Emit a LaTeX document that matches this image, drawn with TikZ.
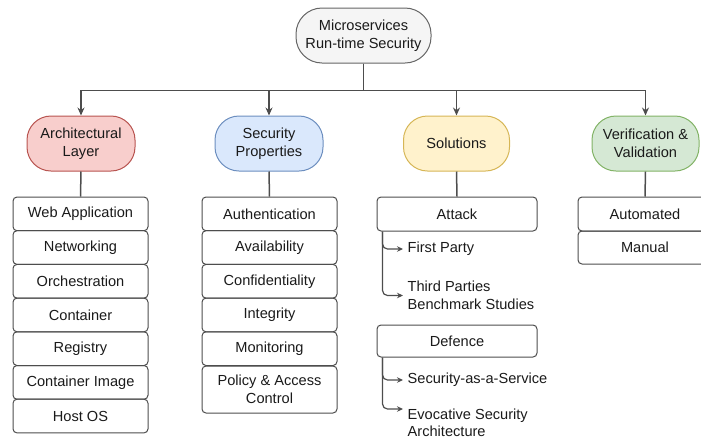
\documentclass[tikz,border=0pt]{standalone}
\usepackage{fontspec}
\setmainfont{Liberation Sans}
\usetikzlibrary{arrows.meta,positioning}
\definecolor{rootfill}{HTML}{F5F5F5}\definecolor{rootdraw}{HTML}{666666}
\definecolor{archfill}{HTML}{F8CECC}\definecolor{archdraw}{HTML}{B85450}
\definecolor{secfill}{HTML}{DAE8FC}\definecolor{secdraw}{HTML}{6C8EBF}
\definecolor{solfill}{HTML}{FFF2CC}\definecolor{soldraw}{HTML}{D6B656}
\definecolor{verfill}{HTML}{D5E8D4}\definecolor{verdraw}{HTML}{82B366}
\definecolor{linec}{HTML}{4D4D4D}
\definecolor{txt}{HTML}{1A1A1A}
\tikzset{
  every node/.style={font=\fontsize{14.6}{17.5}\selectfont, text=txt},
  cat/.style={draw, line width=1pt, rounded corners=24pt, minimum width=108pt, minimum height=55pt, align=center, inner sep=2pt},
  listbox/.style={draw=linec, line width=1pt, rounded corners=4pt, minimum width=135pt, minimum height=33.7pt, align=center, inner sep=2pt},
  conn/.style={draw=linec, line width=1.5pt, -{Stealth[length=8pt,width=7pt]}},
  plain/.style={draw=linec, line width=1.5pt},
  subconn/.style={draw=linec, line width=1.2pt, rounded corners=5pt, -{Stealth[length=6pt,width=5.5pt]}},
  subtext/.style={anchor=west, align=left, inner sep=4.5pt},
}
\begin{document}
\begin{tikzpicture}[x=1pt,y=-1pt]
\useasboundingbox (0,0) rectangle (701,440);
\clip (0,0) rectangle (701,440);
% root
\node[cat, fill=rootfill, draw=rootdraw, minimum width=135pt, rounded corners=26pt] (root) at (363.5,35.5) {Microservices\\Run-time Security};
% categories
\node[cat, fill=archfill, draw=archdraw] (arch) at (81,143.5) {Architectural\\Layer};
\node[cat, fill=secfill, draw=secdraw] (sec) at (269,143.5) {Security\\Properties};
\node[cat, fill=solfill, draw=soldraw, minimum width=106pt] (sol) at (456.5,143.5) {Solutions};
\node[cat, fill=verfill, draw=verdraw, minimum width=107pt] (ver) at (645.5,143.5) {Verification \&\\Validation};
% root connectors
\draw[conn] (root.south) -- ++(0,27) -| (arch.north);
\draw[conn] (root.south) -- ++(0,27) -| (sec.north);
\draw[conn] (root.south) -- ++(0,27) -| (sol.north);
\draw[conn] (root.south) -- ++(0,27) -| (ver.north);
% architectural list
\node[listbox] (a1) at (80.5,213.85) {Web Application};
\node[listbox] (a2) at (80.5,247.55) {Networking};
\node[listbox] (a3) at (80.5,281.25) {Orchestration};
\node[listbox] (a4) at (80.5,314.95) {Container};
\node[listbox] (a5) at (80.5,348.65) {Registry};
\node[listbox] (a6) at (80.5,382.35) {Container Image};
\node[listbox] (a7) at (80.5,416.05) {Host OS};
\draw[plain] (arch.south) -- (a1.north);
% security list
\node[listbox] (s1) at (269.5,213.85) {Authentication};
\node[listbox] (s2) at (269.5,247.55) {Availability};
\node[listbox] (s3) at (269.5,281.25) {Confidentiality};
\node[listbox] (s4) at (269.5,314.95) {Integrity};
\node[listbox] (s5) at (269.5,348.65) {Monitoring};
\node[listbox, minimum height=47pt] (s6) at (269.5,389.5) {Policy \& Access\\Control};
\draw[plain] (sec.south) -- (s1.north);
% solutions
\node[listbox, minimum width=160pt, minimum height=34pt] (attack) at (457,214) {Attack};
\node[listbox, minimum width=160pt, minimum height=32pt] (defence) at (457,341) {Defence};
\draw[plain] (sol.south) -- (attack.north);
\node[subtext] (fp) at (403,249) {First Party};
\node[subtext] (tp) at (403,295.5) {Third Parties\\Benchmark Studies};
\node[subtext] (saas) at (403,380) {Security-as-a-Service};
\node[subtext] (evo) at (403,423) {Evocative Security\\Architecture};
\coordinate (evoin) at (403,409);
\draw[subconn] ([xshift=6pt]attack.south west) |- (fp.west);
\draw[subconn] ([xshift=6pt]attack.south west) |- (tp.west);
\draw[subconn] ([xshift=6pt]defence.south west) |- (saas.west);
\draw[subconn] ([xshift=6pt]defence.south west) |- (evoin);
% verification list
\node[listbox, minimum width=134pt, minimum height=34pt] (v1) at (645,214) {Automated};
\node[listbox, minimum width=134pt, minimum height=33pt] (v2) at (645,247.5) {Manual};
\draw[plain] (ver.south) -- (v1.north);
\end{tikzpicture}
\end{document}
